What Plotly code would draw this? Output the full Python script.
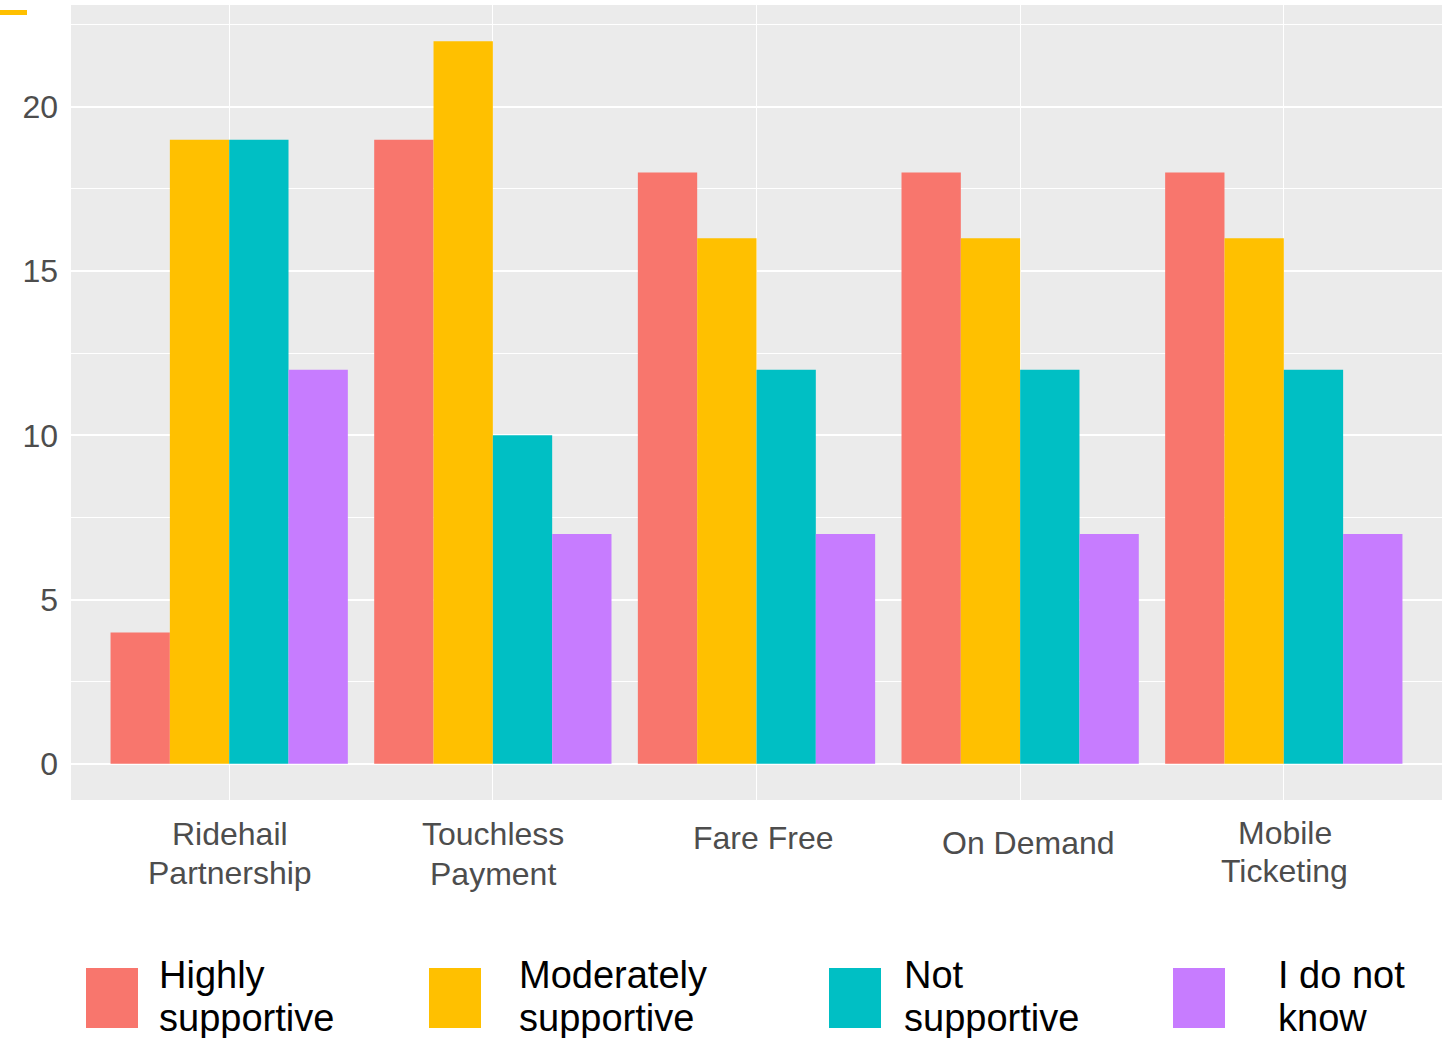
import plotly.graph_objects as go

# Survey responses per transit program
programs = ["Ridehail Partnership", "Touchless Payment", "Fare Free", "On Demand", "Mobile Ticketing"]
program_lines = [["Ridehail", "Partnership"], ["Touchless", "Payment"], ["Fare Free"], ["On Demand"], ["Mobile", "Ticketing"]]
responses = ["Highly supportive", "Moderately supportive", "Not supportive", "I do not know"]
legend_lines = [["Highly", "supportive"], ["Moderately", "supportive"], ["Not", "supportive"], ["I do not", "know"]]

highly = [4, 19, 18, 18, 18]
moderately = [19, 22, 16, 16, 16]
not_supportive = [19, 10, 12, 12, 12]
dont_know = [12, 7, 7, 7, 7]

colors = ["#F8766D", "#FFC000", "#00BFC4", "#C77CFF"]
series = [highly, moderately, not_supportive, dont_know]

FONT = "Liberation Sans, Arial, sans-serif"
W, H = 1445, 1038
ML, MR, MT, MB = 71, 3, 5, 238
plot_h = H - MT - MB

fig = go.Figure()
for name, vals, col in zip(responses, series, colors):
    fig.add_trace(go.Bar(x=programs, y=vals, name=name, marker=dict(color=col, line=dict(width=0)),
                         showlegend=False))


def py(pix):
    """Pixel row -> paper y coordinate."""
    return (H - MB - pix) / plot_h


def px(pix):
    """Pixel column -> paper x coordinate."""
    return (pix - ML) / (W - ML - MR)


annotations = []
# category labels below the panel, one annotation per text line
label_rows = [[834, 873], [834, 874], [838], [843], [833, 871]]
label_shift = [1, 0, 6, 8, 1]
for prog, lines, rows, sh in zip(programs, program_lines, label_rows, label_shift):
    for line, row in zip(lines, rows):
        annotations.append(dict(x=prog, xref="x", y=py(row), yref="paper", text=line, showarrow=False,
                                xanchor="center", yanchor="middle", xshift=sh,
                                font=dict(family=FONT, size=32, color="#4D4D4D")))

shapes = []
key_left = [86, 429, 829, 1173]
text_left = [157, 517, 902, 1276]
for i, (col, lines) in enumerate(zip(colors, legend_lines)):
    shapes.append(dict(type="rect", xref="paper", yref="paper",
                       x0=px(key_left[i]), x1=px(key_left[i] + 52), y0=py(1028), y1=py(968),
                       fillcolor=col, line=dict(width=0)))
    for j, line in enumerate(lines):
        annotations.append(dict(x=px(text_left[i]), xref="paper", y=py(975 + 43 * j), yref="paper",
                                text=line, showarrow=False, xanchor="left", yanchor="middle",
                                font=dict(family=FONT, size=38, color="black")))

# accent mark in the top-left corner
shapes.append(dict(type="rect", xref="paper", yref="paper", x0=px(0), x1=px(27), y0=py(15), y1=py(10),
                   fillcolor="#FFC000", line=dict(width=0)))

fig.update_layout(
    width=W, height=H,
    margin=dict(l=ML, r=MR, t=MT, b=MB),
    paper_bgcolor="white", plot_bgcolor="#EBEBEB",
    barmode="group", bargap=0.1, bargroupgap=0,
    font=dict(family=FONT),
    annotations=annotations, shapes=shapes,
    xaxis=dict(type="category", range=[-0.6, 4.6], showgrid=True, gridcolor="white", gridwidth=1.3,
               showticklabels=False, ticks="", zeroline=False, showline=False),
    yaxis=dict(range=[-1.1, 23.1], tickvals=[0, 5, 10, 15, 20], showgrid=True, gridcolor="white",
               gridwidth=1.6, zeroline=False, showline=False, ticks="",
               tickfont=dict(size=32, color="#4D4D4D", family=FONT),
               ticklabelstandoff=12,
               minor=dict(tickvals=[2.5, 7.5, 12.5, 17.5, 22.5], showgrid=True, gridcolor="white", gridwidth=0.7)),
)

fig.write_html("out.html")
